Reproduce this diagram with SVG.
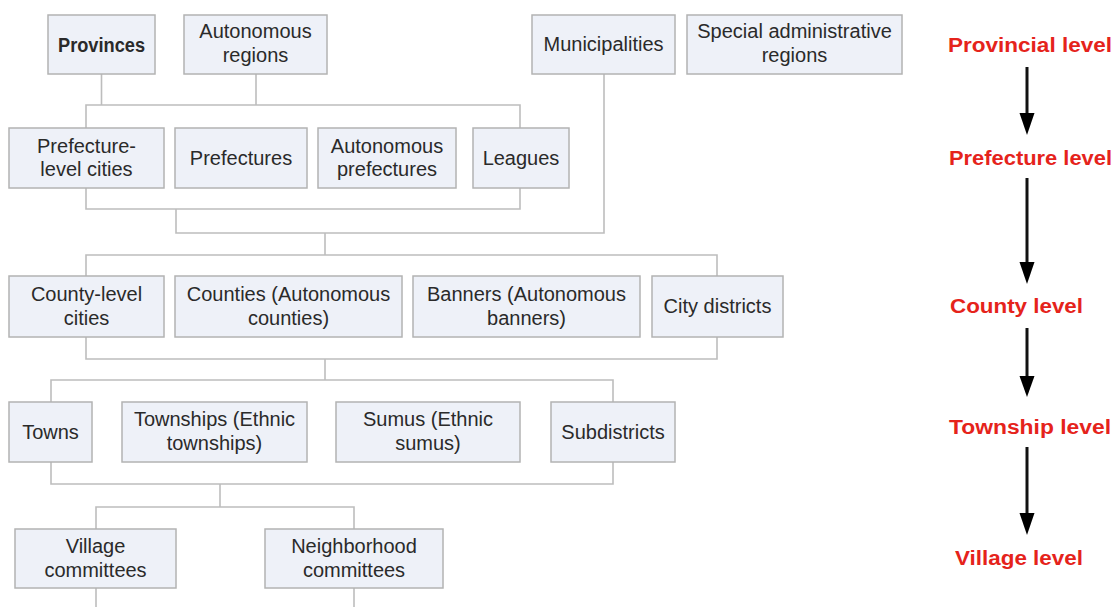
<svg xmlns="http://www.w3.org/2000/svg" width="1119" height="607" viewBox="0 0 1119 607">
<style>
.box{fill:#eef1f8;stroke:#b3b3b3;stroke-width:1.5}
.t{font-family:"Liberation Sans",Arial,sans-serif;font-size:20px;fill:#2a2a2a;text-anchor:middle}
.b{font-weight:bold}
.conn{fill:none;stroke:#bdbdbd;stroke-width:1.6}
.lvl{font-family:"Liberation Sans",Arial,sans-serif;font-size:20px;font-weight:bold;fill:#e5231b}
.arr{stroke:#111;stroke-width:3}
</style>
<rect width="1119" height="607" fill="#fff"/>
<g id="connectors">
<path class="conn" d="M101.5,74V105M256,74V105M86,128V105H520V128"/>
<path class="conn" d="M604,74V233H176V209M86,188V209H520V188"/>
<path class="conn" d="M325,233V255M86,276V255H717V276"/>
<path class="conn" d="M86,337V359H717V337M325,359V380M51,402V380H613V402"/>
<path class="conn" d="M51,462V484H613V462M220,484V507M96,529V507H354V529"/>
<path class="conn" d="M96,588V607M354,588V607"/>
</g>
<g id="provinces"><rect class="box" x="48" y="15" width="107" height="59"/><text class="t b" x="101.5" y="52" textLength="87" lengthAdjust="spacingAndGlyphs">Provinces</text></g>
<g id="autonomous-regions"><rect class="box" x="184" y="15" width="143" height="59"/><text class="t" x="255.5" y="38">Autonomous</text><text class="t" x="255.5" y="62">regions</text></g>
<g id="municipalities"><rect class="box" x="532" y="15" width="143" height="59"/><text class="t" x="603.5" y="51">Municipalities</text></g>
<g id="sar"><rect class="box" x="687" y="15" width="215" height="59"/><text class="t" x="794.5" y="38">Special administrative</text><text class="t" x="794.5" y="62">regions</text></g>

<g id="prefecture-level-cities"><rect class="box" x="9" y="128" width="155" height="60"/><text class="t" x="86.5" y="153">Prefecture-</text><text class="t" x="86.5" y="176">level cities</text></g>
<g id="prefectures"><rect class="box" x="175" y="128" width="132" height="60"/><text class="t" x="241" y="165">Prefectures</text></g>
<g id="autonomous-prefectures"><rect class="box" x="318" y="128" width="138" height="60"/><text class="t" x="387" y="153">Autonomous</text><text class="t" x="387" y="176">prefectures</text></g>
<g id="leagues"><rect class="box" x="473" y="128" width="96" height="60"/><text class="t" x="521" y="165">Leagues</text></g>

<g id="county-level-cities"><rect class="box" x="9" y="276" width="155" height="61"/><text class="t" x="86.5" y="301">County-level</text><text class="t" x="86.5" y="325">cities</text></g>
<g id="counties"><rect class="box" x="175" y="276" width="227" height="61"/><text class="t" x="288.5" y="301">Counties (Autonomous</text><text class="t" x="288.5" y="325">counties)</text></g>
<g id="banners"><rect class="box" x="413" y="276" width="227" height="61"/><text class="t" x="526.5" y="301">Banners (Autonomous</text><text class="t" x="526.5" y="325">banners)</text></g>
<g id="city-districts"><rect class="box" x="652" y="276" width="131" height="61"/><text class="t" x="717.5" y="313">City districts</text></g>

<g id="towns"><rect class="box" x="9" y="402" width="83" height="60"/><text class="t" x="50.5" y="439">Towns</text></g>
<g id="townships"><rect class="box" x="122" y="402" width="185" height="60"/><text class="t" x="214.5" y="426">Townships (Ethnic</text><text class="t" x="214.5" y="450">townships)</text></g>
<g id="sumus"><rect class="box" x="336" y="402" width="184" height="60"/><text class="t" x="428" y="426">Sumus (Ethnic</text><text class="t" x="428" y="450">sumus)</text></g>
<g id="subdistricts"><rect class="box" x="551" y="402" width="124" height="60"/><text class="t" x="613" y="439">Subdistricts</text></g>

<g id="village-committees"><rect class="box" x="15" y="529" width="161" height="59"/><text class="t" x="95.5" y="553">Village</text><text class="t" x="95.5" y="577">committees</text></g>
<g id="neighborhood-committees"><rect class="box" x="265" y="529" width="178" height="59"/><text class="t" x="354" y="553">Neighborhood</text><text class="t" x="354" y="577">committees</text></g>

<g id="levels">
<text class="lvl" x="948" y="52" textLength="164" lengthAdjust="spacingAndGlyphs">Provincial level</text>
<text class="lvl" x="949" y="165" textLength="163" lengthAdjust="spacingAndGlyphs">Prefecture level</text>
<text class="lvl" x="950" y="313" textLength="133" lengthAdjust="spacingAndGlyphs">County level</text>
<text class="lvl" x="949" y="434" textLength="162" lengthAdjust="spacingAndGlyphs">Township level</text>
<text class="lvl" x="955" y="565" textLength="128" lengthAdjust="spacingAndGlyphs">Village level</text>
<line class="arr" x1="1027" y1="67" x2="1027" y2="115"/><polygon points="1019.5,113 1034.5,113 1027,135"/>
<line class="arr" x1="1027" y1="178" x2="1027" y2="264"/><polygon points="1019.5,262 1034.5,262 1027,284"/>
<line class="arr" x1="1027" y1="328" x2="1027" y2="378"/><polygon points="1019.5,376 1034.5,376 1027,397"/>
<line class="arr" x1="1027" y1="447" x2="1027" y2="515"/><polygon points="1019.5,513 1034.5,513 1027,535"/>
</g>
</svg>
